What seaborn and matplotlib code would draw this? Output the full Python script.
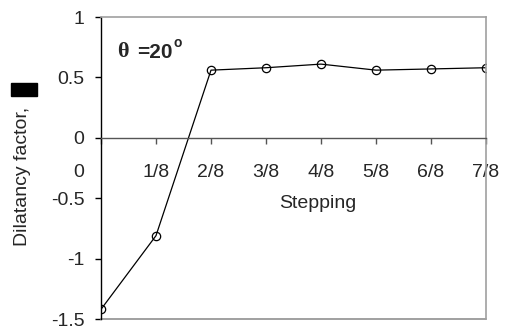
import matplotlib
matplotlib.use("Agg")
import matplotlib.pyplot as plt
import matplotlib.patches as mpatches
from matplotlib.transforms import ScaledTranslation
import seaborn as sns
import pandas as pd

steps = [0, 1, 2, 3, 4, 5, 6, 7]
step_labels = ["0", "1/8", "2/8", "3/8", "4/8", "5/8", "6/8", "7/8"]
dilatancy = [-1.42, -0.81, 0.56, 0.58, 0.61, 0.56, 0.57, 0.58]
y_ticks = [-1.5, -1, -0.5, 0, 0.5, 1]
y_tick_labels = ["-1.5", "-1", "-0.5", "0", "0.5", "1"]

sns.set_style("white")
plt.rcParams["font.family"] = ["Liberation Sans", "DejaVu Sans"]

df = pd.DataFrame({"step": steps, "val": dilatancy})

FS = 14
fig = plt.figure(figsize=(5.05, 3.31), dpi=100)
W, H = 505, 331
ax = fig.add_axes([101 / W, (H - 319) / H, 385 / W, 302 / H])

sns.lineplot(data=df, x="step", y="val", ax=ax, color="black", lw=0.9,
             marker="o", markersize=6, markerfacecolor="none",
             markeredgecolor="black", markeredgewidth=0.9)

ax.set_xlim(0, 7)
ax.set_ylim(-1.5, 1)

for s in ["top", "right", "bottom"]:
    ax.spines[s].set_visible(True)
    ax.spines[s].set_color("#a0a0a0")
    ax.spines[s].set_linewidth(1.2)
ax.spines["left"].set_color("black")
ax.spines["left"].set_linewidth(1.0)
ax.spines["bottom"].set_position(("data", 0))
ax.spines["bottom"].set_color("#555555")
ax.spines["bottom"].set_linewidth(1.0)
ax.axhline(-1.5, color="#a0a0a0", lw=1.4, clip_on=False)

ax.set_yticks(y_ticks)
ax.set_yticklabels(y_tick_labels)
ax.set_xticks(steps)
ax.set_xticklabels(step_labels)
ax.tick_params(axis="y", direction="out", length=4, width=1, color="black",
               labelsize=FS, pad=8, left=True)
ax.tick_params(axis="x", direction="out", length=4, width=1, color="#555555",
               labelsize=FS, pad=15, bottom=True)
lbl0 = ax.get_xticklabels()[0]
lbl0.set_transform(lbl0.get_transform() + ScaledTranslation(-22 / 100, 0, fig.dpi_scale_trans))

ax.set_xlabel("")
ax.set_ylabel("")
ax.text(3.95, -0.54, "Stepping", ha="center", va="center", fontsize=FS)

fig.text(117 / W, 1 - 52 / H, "θ", fontsize=16, fontweight="bold", va="center", ha="left",
         family=["Liberation Serif", "DejaVu Serif"])
fig.text(137 / W, 1 - 52 / H, "=20", fontsize=15, fontweight="bold", va="center", ha="left")
fig.text(173 / W, 1 - 43 / H, "o", fontsize=10, fontweight="bold", va="center", ha="left")

fig.text(23 / W, 1 - 176 / H, "Dilatancy factor,", rotation=90, fontsize=FS,
         ha="center", va="center")
fig.patches.append(mpatches.Rectangle((11 / W, 1 - 96 / H), 26 / W, 13 / H,
                                      transform=fig.transFigure, color="black"))

fig.savefig("out.png", dpi=100)
